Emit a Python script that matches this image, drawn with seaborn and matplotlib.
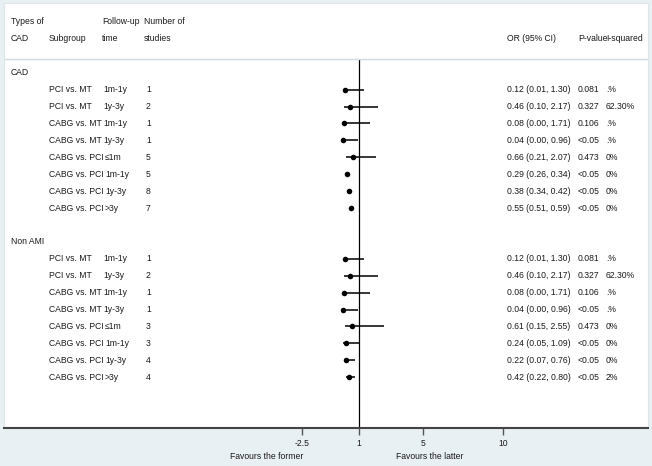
import matplotlib.pyplot as plt
import seaborn as sns
import pandas as pd

# forest plot data
groups = ["CAD", "Non AMI"]
subgroups = ["PCI vs. MT", "PCI vs. MT", "CABG vs. MT", "CABG vs. MT",
             "CABG vs. PCI", "CABG vs. PCI", "CABG vs. PCI", "CABG vs. PCI"]
times = ["1m-1y", "1y-3y", "1m-1y", "1y-3y", "≤1m", "1m-1y", "1y-3y", ">3y"]

n_cad = [1, 2, 1, 1, 5, 5, 8, 7]
or_cad = [0.12, 0.46, 0.08, 0.04, 0.66, 0.29, 0.38, 0.55]
lo_cad = [0.01, 0.10, 0.00, 0.00, 0.21, 0.26, 0.34, 0.51]
hi_cad = [1.30, 2.17, 1.71, 0.96, 2.07, 0.34, 0.42, 0.59]
p_cad = ["0.081", "0.327", "0.106", "<0.05", "0.473", "<0.05", "<0.05", "<0.05"]
i2_cad = [".%", "62.30%", ".%", ".%", "0%", "0%", "0%", "0%"]

n_non = [1, 2, 1, 1, 3, 3, 4, 4]
or_non = [0.12, 0.46, 0.08, 0.04, 0.61, 0.24, 0.22, 0.42]
lo_non = [0.01, 0.10, 0.00, 0.00, 0.15, 0.05, 0.07, 0.22]
hi_non = [1.30, 2.17, 1.71, 0.96, 2.55, 1.09, 0.76, 0.80]
p_non = ["0.081", "0.327", "0.106", "<0.05", "0.473", "<0.05", "<0.05", "<0.05"]
i2_non = [".%", "62.30%", ".%", ".%", "0%", "0%", "0%", "2%"]

xticks = [-2.5, 1, 5, 10]

# build a long table, one row per line of the plot
rows = []
y = 0
group_rows = []
for g, n, o, lo, hi, p, i2 in [(groups[0], n_cad, or_cad, lo_cad, hi_cad, p_cad, i2_cad),
                               (groups[1], n_non, or_non, lo_non, hi_non, p_non, i2_non)]:
    group_rows.append((g, y))
    for k in range(len(subgroups)):
        rows.append(dict(group=g, sub=subgroups[k], time=times[k], n=n[k],
                         OR=o[k], lo=lo[k], hi=hi[k], p=p[k], i2=i2[k], row=y + 1 + k))
    y += len(subgroups) + 2
df = pd.DataFrame(rows)

sns.set_style("white")
plt.rcParams["font.family"] = ["Liberation Sans", "DejaVu Sans"]
FS = 6.2
TXT = "#1a1a1a"

W, H = 652, 466
fig = plt.figure(figsize=(W / 100, H / 100), dpi=100, facecolor="#e9f0f3")
ax = fig.add_axes([4 / W, 38 / H, 644 / W, 425 / H])
ax.set_facecolor("white")

# CI whiskers + point estimates
ax.hlines(df["row"], df["lo"], df["hi"], color="black", lw=1.1, zorder=2)
sns.scatterplot(data=df, x="OR", y="row", color="black", s=16, linewidth=0,
                legend=False, ax=ax, zorder=3)
ax.set_xlabel("")
ax.set_ylabel("")

ax.set_xlim(1 - 354.7 / 16.07, 1 + 289.3 / 16.07)
ax.set_ylim(21.0, -4.12)

# reference line and header separator
ax.vlines(1, -0.8, 21.0, color="black", lw=0.9, zorder=1)
ax.axhline(-0.82, color="#d3dbdf", lw=1.0)

ax.set_xticks(xticks)
ax.set_xticklabels(["-2.5", "1", "5", "10"])
ax.set_yticks([])
ax.tick_params(axis="x", length=5, width=1, color="#555555", labelsize=FS,
               labelcolor=TXT, pad=3, bottom=True)
for s in ["left", "right", "top"]:
    ax.spines[s].set_color("#dde6ea")
    ax.spines[s].set_linewidth(0.8)
ax.spines["bottom"].set_color("#444444")
ax.spines["bottom"].set_linewidth(1.5)


def col(px):
    return (px - 4) / 644


tr = ax.get_yaxis_transform()
kw = dict(transform=tr, fontsize=FS, color=TXT, va="center", ha="left")

# header
ax.text(col(11), -3, "Types of", **kw)
ax.text(col(11), -2, "CAD", **kw)
ax.text(col(49), -2, "Subgroup", **kw)
ax.text(col(102), -3, "Follow-up", **kw)
ax.text(col(102), -2, "time", **kw)
ax.text(col(144), -3, "Number of", **kw)
ax.text(col(144), -2, "studies", **kw)
ax.text(col(507), -2, "OR (95% CI)", **kw)
ax.text(col(578), -2, "P-value", **kw)
ax.text(col(606), -2, "I-squared", **kw)

for g, yy in group_rows:
    ax.text(col(11), yy, g, **kw)

fig.canvas.draw()
renderer = fig.canvas.get_renderer()
x_time = ax.transAxes.transform((col(103), 0))[0]
for _, r in df.iterrows():
    t = ax.text(col(49), r["row"], r["sub"], **kw)
    end = t.get_window_extent(renderer).x1
    if end + 3 > x_time:
        ax.annotate(r["time"], xy=(1, 0.5), xycoords=t, xytext=(1, 0),
                    textcoords="offset points", fontsize=FS, color=TXT,
                    va="center", ha="left")
    else:
        ax.text(col(103), r["row"], r["time"], **kw)
    ax.text(col(146), r["row"], str(r["n"]), **kw)
    ax.text(col(507), r["row"], f"{r['OR']:.2f} ({r['lo']:.2f}, {r['hi']:.2f})", **kw)
    ax.text(col(578), r["row"], r["p"], **kw)
    ax.text(col(606), r["row"], r["i2"], **kw)

# favours labels under the axis
ax.text(-2.45, -0.068, "Favours the former", transform=ax.get_xaxis_transform(),
        fontsize=FS, color=TXT, ha="right", va="center", clip_on=False)
ax.text(3.3, -0.068, "Favours the latter", transform=ax.get_xaxis_transform(),
        fontsize=FS, color=TXT, ha="left", va="center", clip_on=False)

fig.savefig("out.png", dpi=100, facecolor=fig.get_facecolor())
